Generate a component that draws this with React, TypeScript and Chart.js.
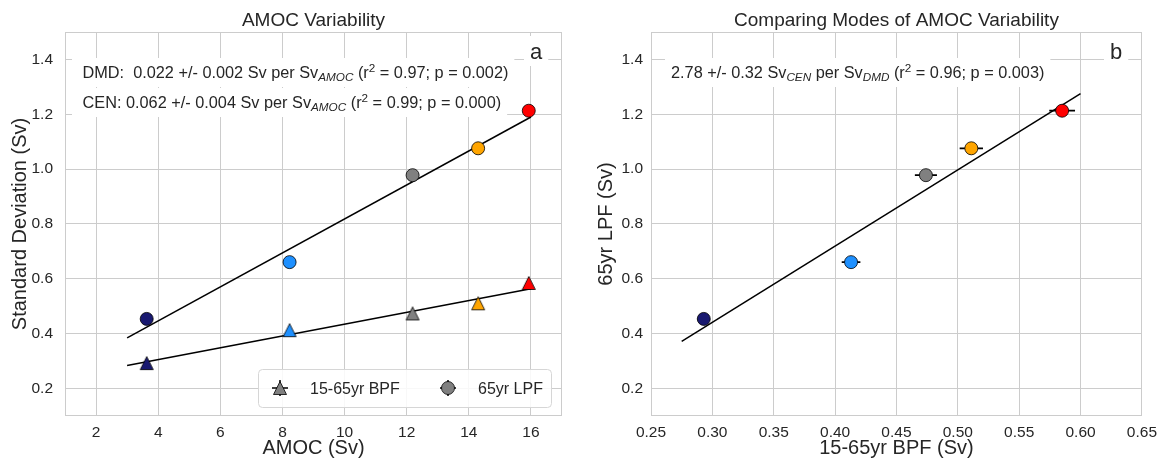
import React, { useEffect, useRef } from 'react';
import { Chart, registerables } from 'chart.js';

Chart.register(...registerables);

// ---------- data ----------
const pointColors = ['#191970', '#1E90FF', '#808080', '#FFA500', '#FF0000'];
const amocMean = [3.63, 8.23, 12.19, 14.3, 15.93];
const lpfStd = [0.454, 0.661, 0.978, 1.076, 1.213];
const bpfStd = [0.293, 0.413, 0.474, 0.511, 0.585];
const bpfErr = [0.005, 0.0076, 0.009, 0.0095, 0.0105];
const fitAmocX = [3, 16];
const fitLpfY = [0.385, 1.19];
const fitBpfY = [0.284, 0.564];
const fitBX = [0.275, 0.6];
const fitBY = [0.372, 1.275];
const xTicksA = [2, 4, 6, 8, 10, 12, 14, 16];
const xTicksB = [0.25, 0.3, 0.35, 0.4, 0.45, 0.5, 0.55, 0.6, 0.65];
const yTicks = [0.2, 0.4, 0.6, 0.8, 1.0, 1.2, 1.4];

const FAMILY = '"Liberation Sans", Arial, sans-serif';
const TEXT = '#262626';
const GRID = '#cccccc';
const ANN = 16.3;

type Seg = { t: string; italic?: boolean; small?: boolean; dy?: number };

const dmdLine: Seg[] = [
  { t: ' DMD:  0.022 +/- 0.002 Sv per Sv' },
  { t: 'AMOC', italic: true, small: true, dy: 3 },
  { t: ' (r' },
  { t: '2', small: true, dy: -6 },
  { t: ' = 0.97; p = 0.002)' },
];
const cenLine: Seg[] = [
  { t: ' CEN: 0.062 +/- 0.004 Sv per Sv' },
  { t: 'AMOC', italic: true, small: true, dy: 3 },
  { t: ' (r' },
  { t: '2', small: true, dy: -6 },
  { t: ' = 0.99; p = 0.000)' },
];
const bLine: Seg[] = [
  { t: '2.78 +/- 0.32 Sv' },
  { t: 'CEN', italic: true, small: true, dy: 3 },
  { t: ' per Sv' },
  { t: 'DMD', italic: true, small: true, dy: 3 },
  { t: ' (r' },
  { t: '2', small: true, dy: -6 },
  { t: ' = 0.96; p = 0.003)' },
];

function setFont(ctx: CanvasRenderingContext2D, s: Seg, base: number) {
  const size = s.small ? base * 0.72 : base;
  ctx.font = `${s.italic ? 'italic ' : ''}${size}px ${FAMILY}`;
}

function measureRich(ctx: CanvasRenderingContext2D, segs: Seg[], base: number) {
  let w = 0;
  for (const s of segs) {
    setFont(ctx, s, base);
    w += ctx.measureText(s.t).width;
  }
  return w;
}

function drawRich(ctx: CanvasRenderingContext2D, x: number, y: number, segs: Seg[], base: number) {
  let cx = x;
  ctx.fillStyle = TEXT;
  ctx.textAlign = 'left';
  ctx.textBaseline = 'alphabetic';
  for (const s of segs) {
    setFont(ctx, s, base);
    ctx.fillText(s.t, cx, y + (s.dy || 0));
    cx += ctx.measureText(s.t).width;
  }
}

function boxedRich(ctx: CanvasRenderingContext2D, x: number, baseline: number, segs: Seg[], base: number) {
  const w = measureRich(ctx, segs, base);
  ctx.fillStyle = '#ffffff';
  ctx.fillRect(x - 6, baseline - 20, w + 12, 29);
  drawRich(ctx, x, baseline, segs, base);
}

function makeTriangle(color: string) {
  const c = document.createElement('canvas');
  c.width = 16;
  c.height = 16;
  const g = c.getContext('2d')!;
  g.beginPath();
  g.moveTo(8, 1.5);
  g.lineTo(14.5, 14.5);
  g.lineTo(1.5, 14.5);
  g.closePath();
  g.fillStyle = color;
  g.fill();
  g.lineWidth = 0.8;
  g.strokeStyle = '#000';
  g.stroke();
  return c;
}

function makeScale(min: number, max: number, ticks: number[], digits: number, title: string, titlePad: any, tickPad: number, size: number, isX: boolean) {
  return {
    type: 'linear',
    min,
    max,
    afterBuildTicks: (s: any) => {
      s.ticks = ticks.map((v) => ({ value: v }));
    },
    afterFit: (s: any) => {
      if (isX) s.height = size;
      else s.width = size;
    },
    ticks: {
      autoSkip: false,
      maxRotation: 0,
      color: TEXT,
      font: { family: FAMILY, size: 15.5 },
      padding: tickPad,
      callback: (v: number) => Number(v).toFixed(digits),
    },
    grid: { color: GRID, lineWidth: 1, drawTicks: false },
    border: { display: false },
    title: {
      display: true,
      text: title,
      color: TEXT,
      font: { family: FAMILY, size: 20 },
      padding: titlePad,
    },
  };
}

function frame(chart: any) {
  const { ctx, chartArea: a } = chart;
  ctx.save();
  ctx.strokeStyle = GRID;
  ctx.lineWidth = 1;
  ctx.strokeRect(Math.round(a.left) + 0.5, Math.round(a.top) + 0.5, Math.round(a.right - a.left) - 1, Math.round(a.bottom - a.top) - 1);
  ctx.restore();
}

function drawTitle(chart: any, text: string) {
  const { ctx, chartArea: a } = chart;
  ctx.save();
  ctx.fillStyle = TEXT;
  ctx.font = `19px ${FAMILY}`;
  ctx.textAlign = 'center';
  ctx.textBaseline = 'alphabetic';
  ctx.fillText(text, (a.left + a.right) / 2, 26);
  ctx.restore();
}

function panelLetter(chart: any, letter: string, x: number) {
  const { ctx } = chart;
  ctx.save();
  ctx.font = `22px ${FAMILY}`;
  const w = ctx.measureText(letter).width;
  ctx.fillStyle = '#fff';
  ctx.fillRect(x - 6, 36, w + 12, 30);
  ctx.fillStyle = TEXT;
  ctx.textBaseline = 'alphabetic';
  ctx.textAlign = 'left';
  ctx.fillText(letter, x, 59);
  ctx.restore();
}

function roundRect(ctx: CanvasRenderingContext2D, x: number, y: number, w: number, h: number, r: number) {
  ctx.beginPath();
  ctx.moveTo(x + r, y);
  ctx.lineTo(x + w - r, y);
  ctx.arcTo(x + w, y, x + w, y + r, r);
  ctx.lineTo(x + w, y + h - r);
  ctx.arcTo(x + w, y + h, x + w - r, y + h, r);
  ctx.lineTo(x + r, y + h);
  ctx.arcTo(x, y + h, x, y + h - r, r);
  ctx.lineTo(x, y + r);
  ctx.arcTo(x, y, x + r, y, r);
  ctx.closePath();
}

export default function App() {
  const refA = useRef<HTMLCanvasElement>(null);
  const refB = useRef<HTMLCanvasElement>(null);

  useEffect(() => {
    const triImgs = pointColors.map((c) => makeTriangle(c));
    const grayTri = makeTriangle('#808080');

    const decorA = {
      id: 'decorA',
      beforeDatasetsDraw(chart: any) {
        frame(chart);
      },
      afterDatasetsDraw(chart: any) {
        const ctx = chart.ctx as CanvasRenderingContext2D;
        ctx.save();
        boxedRich(ctx, 78, 78, dmdLine, ANN);
        boxedRich(ctx, 78, 108, cenLine, ANN);
        // legend
        roundRect(ctx, 258.5, 369.5, 293, 38, 4);
        ctx.fillStyle = 'rgba(255,255,255,0.85)';
        ctx.fill();
        ctx.strokeStyle = '#d6d6d6';
        ctx.lineWidth = 1;
        ctx.stroke();
        ctx.strokeStyle = '#000';
        ctx.lineWidth = 1.5;
        ctx.beginPath();
        ctx.moveTo(272, 388);
        ctx.lineTo(288, 388);
        ctx.moveTo(280, 380);
        ctx.lineTo(280, 396);
        ctx.moveTo(440, 388);
        ctx.lineTo(456, 388);
        ctx.moveTo(448, 380);
        ctx.lineTo(448, 396);
        ctx.stroke();
        ctx.drawImage(grayTri, 272, 380);
        ctx.beginPath();
        ctx.arc(448, 388, 6.5, 0, Math.PI * 2);
        ctx.fillStyle = '#808080';
        ctx.fill();
        ctx.lineWidth = 0.8;
        ctx.stroke();
        ctx.fillStyle = TEXT;
        ctx.font = `16px ${FAMILY}`;
        ctx.textAlign = 'left';
        ctx.textBaseline = 'alphabetic';
        ctx.fillText('15-65yr BPF', 310, 394);
        ctx.fillText('65yr LPF', 478, 394);
        ctx.restore();
        panelLetter(chart, 'a', 530);
      },
      afterDraw(chart: any) {
        drawTitle(chart, 'AMOC Variability');
      },
    };

    const decorB = {
      id: 'decorB',
      beforeDatasetsDraw(chart: any) {
        frame(chart);
        const ctx = chart.ctx as CanvasRenderingContext2D;
        const xs = chart.scales.x;
        const ys = chart.scales.y;
        ctx.save();
        ctx.strokeStyle = '#000';
        ctx.lineWidth = 1.8;
        ctx.beginPath();
        bpfStd.forEach((v, i) => {
          const y = ys.getPixelForValue(lpfStd[i]);
          ctx.moveTo(xs.getPixelForValue(v - bpfErr[i]), y);
          ctx.lineTo(xs.getPixelForValue(v + bpfErr[i]), y);
        });
        ctx.stroke();
        ctx.restore();
      },
      afterDatasetsDraw(chart: any) {
        const ctx = chart.ctx as CanvasRenderingContext2D;
        ctx.save();
        boxedRich(ctx, 89, 78, bLine, ANN);
        ctx.restore();
        panelLetter(chart, 'b', 528);
      },
      afterDraw(chart: any) {
        drawTitle(chart, 'Comparing Modes of AMOC Variability');
      },
    };

    const chartA = new Chart(refA.current!, {
      type: 'scatter',
      data: {
        datasets: [
          {
            label: '65yr LPF',
            data: amocMean.map((x, i) => ({ x, y: lpfStd[i] })),
            pointStyle: 'circle',
            pointRadius: 6.5,
            pointBackgroundColor: pointColors,
            pointBorderColor: '#000',
            pointBorderWidth: 0.8,
            order: 1,
          },
          {
            label: '15-65yr BPF',
            data: amocMean.map((x, i) => ({ x, y: bpfStd[i] })),
            pointStyle: triImgs as any,
            pointRadius: 7,
            order: 1,
          },
          {
            label: 'fit LPF',
            data: fitAmocX.map((x, i) => ({ x, y: fitLpfY[i] })),
            showLine: true,
            borderColor: '#000',
            borderWidth: 1.5,
            pointRadius: 0,
            order: 2,
          },
          {
            label: 'fit BPF',
            data: fitAmocX.map((x, i) => ({ x, y: fitBpfY[i] })),
            showLine: true,
            borderColor: '#000',
            borderWidth: 1.5,
            pointRadius: 0,
            order: 2,
          },
        ],
      } as any,
      options: {
        responsive: false,
        animation: false,
        events: [],
        layout: { padding: { left: 0, top: 32, right: 20, bottom: 0 } },
        plugins: { legend: { display: false }, tooltip: { enabled: false }, title: { display: false } },
        scales: {
          x: makeScale(1, 17, xTicksA, 0, 'AMOC (Sv)', { top: 0, bottom: 0 }, 7, 44, true),
          y: makeScale(0.1, 1.5, yTicks, 1, 'Standard Deviation (Sv)', { top: 8, bottom: 0 }, 12, 65, false),
        } as any,
      },
      plugins: [decorA],
    });

    const chartB = new Chart(refB.current!, {
      type: 'scatter',
      data: {
        datasets: [
          {
            label: '65yr LPF',
            data: bpfStd.map((x, i) => ({ x, y: lpfStd[i] })),
            pointStyle: 'circle',
            pointRadius: 6.5,
            pointBackgroundColor: pointColors,
            pointBorderColor: '#000',
            pointBorderWidth: 0.8,
            order: 1,
          },
          {
            label: 'fit',
            data: fitBX.map((x, i) => ({ x, y: fitBY[i] })),
            showLine: true,
            borderColor: '#000',
            borderWidth: 1.5,
            pointRadius: 0,
            order: 2,
          },
        ],
      } as any,
      options: {
        responsive: false,
        animation: false,
        events: [],
        layout: { padding: { left: 0, top: 32, right: 15, bottom: 0 } },
        plugins: { legend: { display: false }, tooltip: { enabled: false }, title: { display: false } },
        scales: {
          x: makeScale(0.25, 0.65, xTicksB, 2, '15-65yr BPF (Sv)', { top: 0, bottom: 0 }, 7, 44, true),
          y: makeScale(0.1, 1.5, yTicks, 1, '65yr LPF (Sv)', { top: 12.7, bottom: 0 }, 8, 69, false),
        } as any,
      },
      plugins: [decorB],
    });

    return () => {
      chartA.destroy();
      chartB.destroy();
    };
  }, []);

  return (
    <div style={{ position: 'fixed', left: 0, top: 0, width: 1164, height: 460, background: '#ffffff' }}>
      <canvas ref={refA} width={582} height={460} style={{ position: 'absolute', left: 0, top: 0, width: 582, height: 460 }} />
      <canvas ref={refB} width={582} height={460} style={{ position: 'absolute', left: 582, top: 0, width: 582, height: 460 }} />
    </div>
  );
}
